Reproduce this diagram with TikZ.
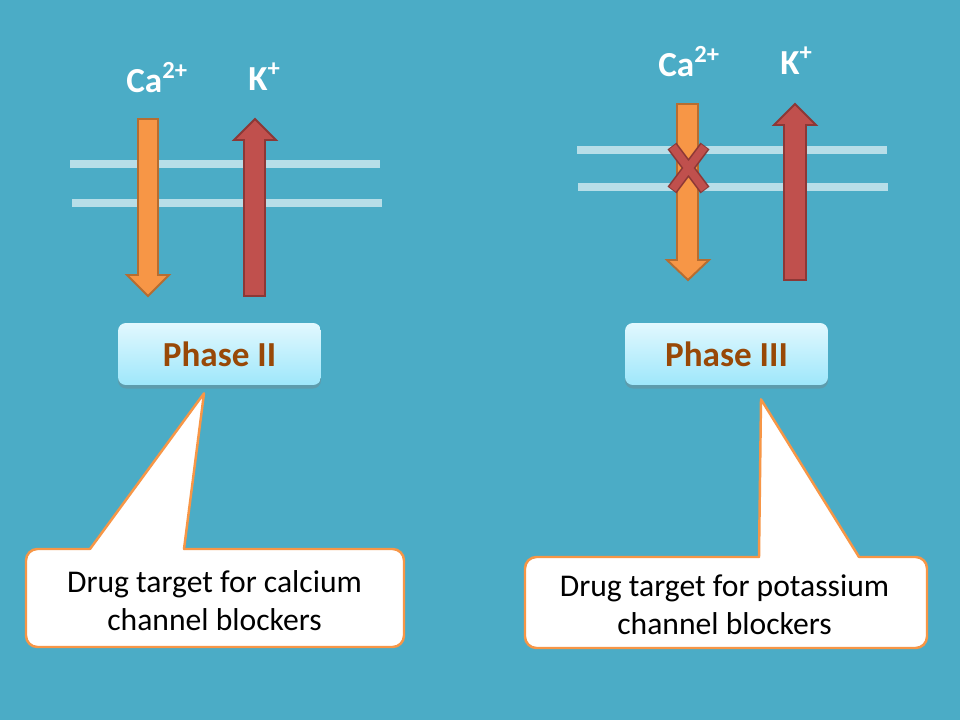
\documentclass[tikz,border=0pt]{standalone}
\usepackage{fontspec}
\setmainfont{Carlito}
\usepackage{tikz}
\usetikzlibrary{shadows, calc}

\definecolor{bgblue}{RGB}{75,172,198}
\definecolor{membcol}{RGB}{183,222,232}
\definecolor{caorange}{RGB}{247,150,70}
\definecolor{caborder}{RGB}{182,109,49}
\definecolor{kred}{RGB}{192,80,77}
\definecolor{kborder}{RGB}{140,56,54}
\definecolor{phasetop}{RGB}{226,248,254}
\definecolor{phasebot}{RGB}{158,231,251}
\definecolor{phasebrown}{RGB}{152,72,7}

\begin{document}
\begin{tikzpicture}[x=0.02cm, y=-0.02cm,
  membrane/.style={line width=4.5pt, draw=membcol},
  caarrow/.style={fill=caorange, draw=caborder, line width=1.1pt},
  karrow/.style={fill=kred, draw=kborder, line width=1.1pt},
  ion/.style={text=white, font=\fontsize{20}{24}\selectfont\bfseries, anchor=base west, inner sep=0pt},
  phasebox/.style={rounded corners=4.5pt, top color=phasetop, bottom color=phasebot,
    minimum width=4.06cm, minimum height=1.24cm, text=phasebrown,
    font=\fontsize{20}{24}\selectfont\bfseries,
    drop shadow={shadow xshift=0pt, shadow yshift=-2pt, opacity=0.35}},
  callout/.style={draw=caorange, line width=1.4pt, line join=round, line cap=round},
  callouttext/.style={font=\fontsize{18}{21.5}\selectfont, align=center}
]
  \fill[bgblue] (0,0) rectangle (960,720);

  % === Phase II (left) ===
  \draw[membrane] (70,164) -- (380,164);
  \draw[membrane] (72,203) -- (382,203);

  % Ca2+ in, K+ out
  \draw[caarrow] (138,119) -- (158,119) -- (158,275) -- (169,275) -- (148,296) -- (127,275) -- (138,275) -- cycle;
  \draw[karrow] (244,296) -- (244,140) -- (234,140) -- (255,119) -- (276,140) -- (265,140) -- (265,296) -- cycle;

  \node[ion] (caII) at (126,92) {Ca\textsuperscript{2+}};
  \node[ion] (kII) at (248,90) {K\textsuperscript{+}};

  \node[phasebox] (phaseII) at (219.5,354) {Phase II};

  % callout
  \coordinate (tipII) at ($(phaseII.south)+(-15.5,8)$);
  \fill[white, rounded corners=6.5pt] (26,549) rectangle (404,647);
  \fill[white] (90,549) -- (tipII) -- (184,549) -- cycle;
  \draw[callout, rounded corners=6.5pt] (184,549) -- (404,549) -- (404,647) -- (26,647) -- (26,549) -- (90,549);
  \draw[callout] (90,549) -- (tipII) -- (184,549);
  \node[callouttext] (txtII) at (214.5,601) {Drug target for calcium\\channel blockers};

  % === Phase III (right) ===
  \draw[membrane] (577,150) -- (887,150);
  \draw[membrane] (578,187) -- (888,187);

  % Ca2+ blocked, K+ out
  \draw[caarrow] (677,104) -- (698,104) -- (698,260) -- (709,260) -- (688,280) -- (667,260) -- (677,260) -- cycle;
  \draw[karrow] (784,280) -- (784,125) -- (774,125) -- (795,104) -- (816,125) -- (806,125) -- (806,280) -- cycle;

  % cross on the Ca2+ channel
  \draw[line width=6.4pt, kborder] (672,146) -- (705,190) (705,146) -- (672,190);
  \draw[line width=4.6pt, kred] (672.6,146.8) -- (704.4,189.2) (704.4,146.8) -- (672.6,189.2);

  \node[ion] (caIII) at (658,76) {Ca\textsuperscript{2+}};
  \node[ion] (kIII) at (780,74) {K\textsuperscript{+}};

  \node[phasebox] (phaseIII) at (726.5,354) {Phase III};

  % callout
  \coordinate (tipIII) at ($(phaseIII.south)+(34.5,14)$);
  \fill[white, rounded corners=6.5pt] (525,557) rectangle (927,648);
  \fill[white] (759,557) -- (tipIII) -- (859,557) -- cycle;
  \draw[callout, rounded corners=6.5pt] (859,557) -- (927,557) -- (927,648) -- (525,648) -- (525,557) -- (759,557);
  \draw[callout] (759,557) -- (tipIII) -- (859,557);
  \node[callouttext] (txtIII) at (724.5,604.5) {Drug target for potassium\\channel blockers};
\end{tikzpicture}
\end{document}
